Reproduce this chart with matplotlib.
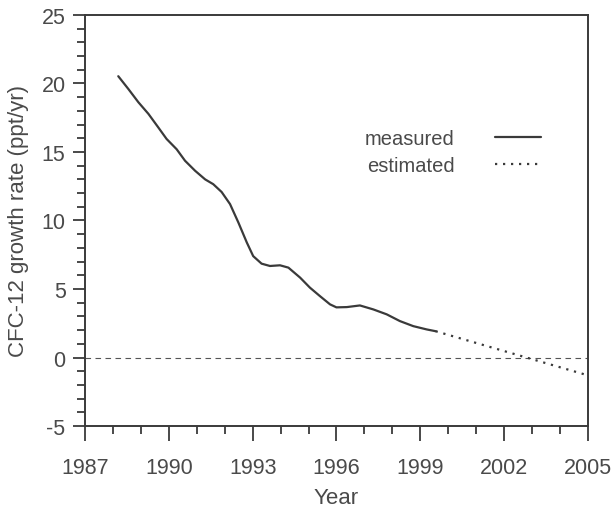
import matplotlib.pyplot as plt
from matplotlib.ticker import MultipleLocator
import numpy as np

# measured growth rate
years_meas = [1988.19, 1988.55, 1988.91, 1989.27, 1989.62, 1989.92, 1990.28,
              1990.58, 1990.94, 1991.3, 1991.59, 1991.89, 1992.19, 1992.49,
              1992.79, 1993.02, 1993.32, 1993.62, 1993.98, 1994.28, 1994.7,
              1995.05, 1995.41, 1995.77, 1996.0, 1996.37, 1996.84, 1997.32,
              1997.8, 1998.27, 1998.75, 1999.23, 1999.55]
rate_meas = [20.53, 19.6, 18.63, 17.78, 16.8, 15.95, 15.2,
             14.36, 13.63, 13.0, 12.65, 12.08, 11.2, 9.85,
             8.4, 7.4, 6.85, 6.68, 6.73, 6.56, 5.83,
             5.1, 4.48, 3.88, 3.66, 3.68, 3.8, 3.51,
             3.15, 2.66, 2.29, 2.05, 1.92]

# estimated extrapolation
years_est = [1999.55, 2005.0]
rate_est = [1.92, -1.3]

xticks = [1987, 1990, 1993, 1996, 1999, 2002, 2005]
yticks = [-5, 0, 5, 10, 15, 20, 25]

plt.rcParams['font.family'] = ['Liberation Sans', 'DejaVu Sans']
plt.rcParams['axes.unicode_minus'] = False
ink = '#3a3a3a'
txt = '#4a4a4a'

fig = plt.figure(figsize=(6.13, 5.10), dpi=100)
ax = fig.add_axes([0.1387, 0.1627, 0.8203, 0.806])

ax.axhline(0, color='#555555', lw=0.8, linestyle=(0, (5, 4)), zorder=1)
ax.plot(years_meas, rate_meas, color=ink, lw=1.6, label='measured',
        solid_capstyle='round', solid_joinstyle='round')
ax.plot(years_est, rate_est, color=ink, lw=1.6, linestyle=(0, (1, 2.6)),
        label='estimated')

ax.set_xlim(1987, 2005)
ax.set_ylim(-5, 25)
ax.set_xticks(xticks)
ax.set_yticks(yticks)
ax.xaxis.set_minor_locator(MultipleLocator(1))
ax.yaxis.set_minor_locator(MultipleLocator(1))

ax.tick_params(axis='x', which='major', direction='out', length=11, width=1.3,
               colors=ink, labelcolor=txt, labelsize=15.5, pad=11)
ax.tick_params(axis='x', which='minor', direction='out', length=6, width=1.3,
               colors=ink)
ax.tick_params(axis='y', which='major', direction='out', length=9, width=1.3,
               colors=ink, labelcolor=txt, labelsize=15.5, pad=5)
ax.tick_params(axis='y', which='minor', direction='out', length=6, width=1.3,
               colors=ink)
for s in ax.spines.values():
    s.set_linewidth(1.4)
    s.set_color(ink)

ax.set_xlabel('Year', fontsize=16, color=txt, labelpad=7)
ax.set_ylabel('CFC-12 growth rate (ppt/yr)', fontsize=16, color=txt,
              labelpad=9)

leg = ax.legend(loc='upper left', bbox_to_anchor=(0.54, 0.742), frameon=False,
                markerfirst=False, fontsize=14.5, handlelength=2.3,
                handletextpad=2.0, labelspacing=0.4, borderaxespad=0)
for t in leg.get_texts():
    t.set_color(txt)

fig.savefig('out.png', dpi=100)
